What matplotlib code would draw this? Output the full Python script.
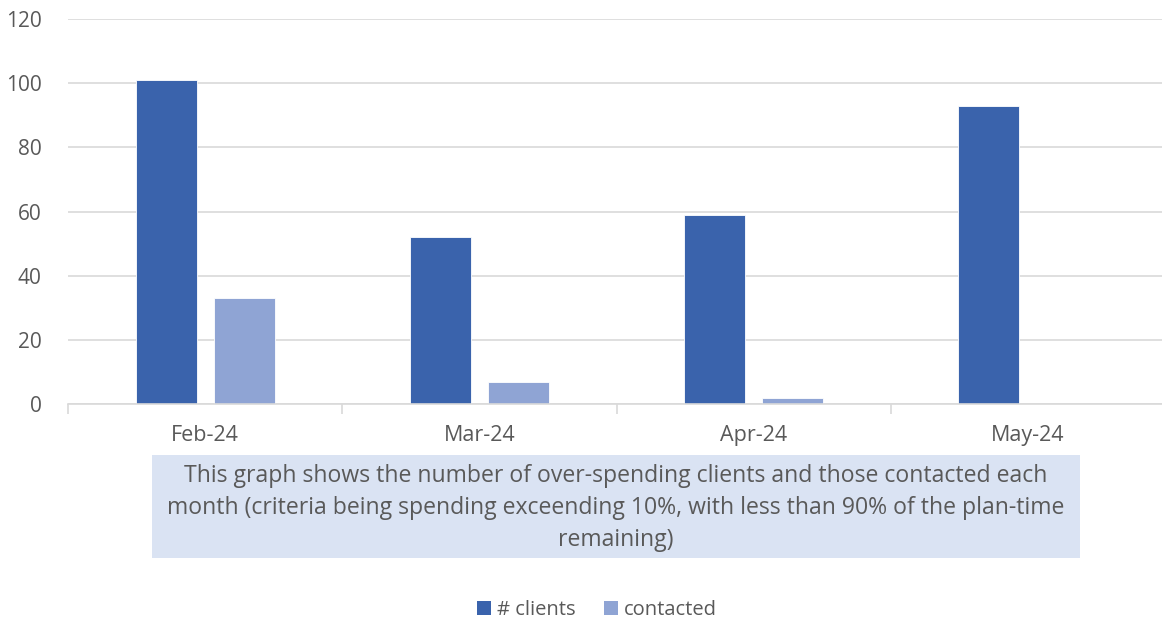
import matplotlib
matplotlib.use('Agg')
import matplotlib.pyplot as plt
import numpy as np
from matplotlib.patches import Rectangle, Patch

plt.rcParams['font.family'] = ['Open Sans', 'DejaVu Sans']

# -------------------------- data --------------------------
months = ['Feb-24', 'Mar-24', 'Apr-24', 'May-24']
clients = [101, 52, 59, 93]
contacted = [33, 7, 2, 0]
series_names = ['# clients', 'contacted']
note = ("This graph shows the number of over-spending clients and those contacted each\n"
        "month (criteria being spending exceending 10%, with less than 90% of the plan-time\n"
        "remaining)")

# -------------------------- style --------------------------
dark = '#3A63AC'
light = '#8FA4D4'
text_grey = '#595959'
grid_grey = '#D9D9D9'

W, H = 1162, 625
fig = plt.figure(figsize=(W / 100, H / 100), dpi=100)
ax = fig.add_axes([68 / W, 1 - 404 / H, 1097 / W, 385 / H])

x = np.arange(len(months))
bw = 0.222
off = 0.142
ax.bar(x - off, clients, bw, color=dark, edgecolor='white', linewidth=0.6, zorder=2)
ax.bar(x + off, contacted, bw, color=light, edgecolor='white', linewidth=0.6, zorder=2)

ax.set_xlim(-0.5, len(months) - 0.5)
ax.set_ylim(0, 120)
ax.set_yticks(np.arange(0, 121, 20))
ax.yaxis.grid(True, color=grid_grey, linewidth=1.2, zorder=0)
ax.set_axisbelow(True)

for s in ['top', 'right', 'left']:
    ax.spines[s].set_visible(False)
ax.spines['bottom'].set_color(grid_grey)
ax.spines['bottom'].set_linewidth(1.2)

ax.set_xticks(x)
ax.set_xticklabels(months)
ax.set_xticks(np.arange(-0.5, len(months), 1), minor=True)
ax.tick_params(axis='x', which='major', length=0, pad=15, labelsize=15.5, labelcolor=text_grey)
ax.tick_params(axis='x', which='minor', length=7, width=1.2, color=grid_grey)
ax.tick_params(axis='y', length=0, pad=19, labelsize=15, labelcolor=text_grey)

# note box
fig.patches.append(Rectangle((152 / W, 1 - 558 / H), 928 / W, 103 / H,
                             transform=fig.transFigure, facecolor='#DAE3F3',
                             edgecolor='none', zorder=0))
fig.text(616 / W, 1 - 508 / H, note, ha='center', va='center', fontsize=16.6,
         color=text_grey, linespacing=1.46)

# legend
handles = [Patch(facecolor=dark, label=series_names[0]),
           Patch(facecolor=light, label=series_names[1])]
fig.legend(handles=handles, loc='center', bbox_to_anchor=(597 / W, 1 - 610 / H),
           ncol=2, frameon=False, fontsize=14.5, handlelength=0.7, handleheight=0.7,
           handletextpad=0.3, columnspacing=1.4, labelcolor=text_grey)

fig.savefig('out.png', dpi=100)
